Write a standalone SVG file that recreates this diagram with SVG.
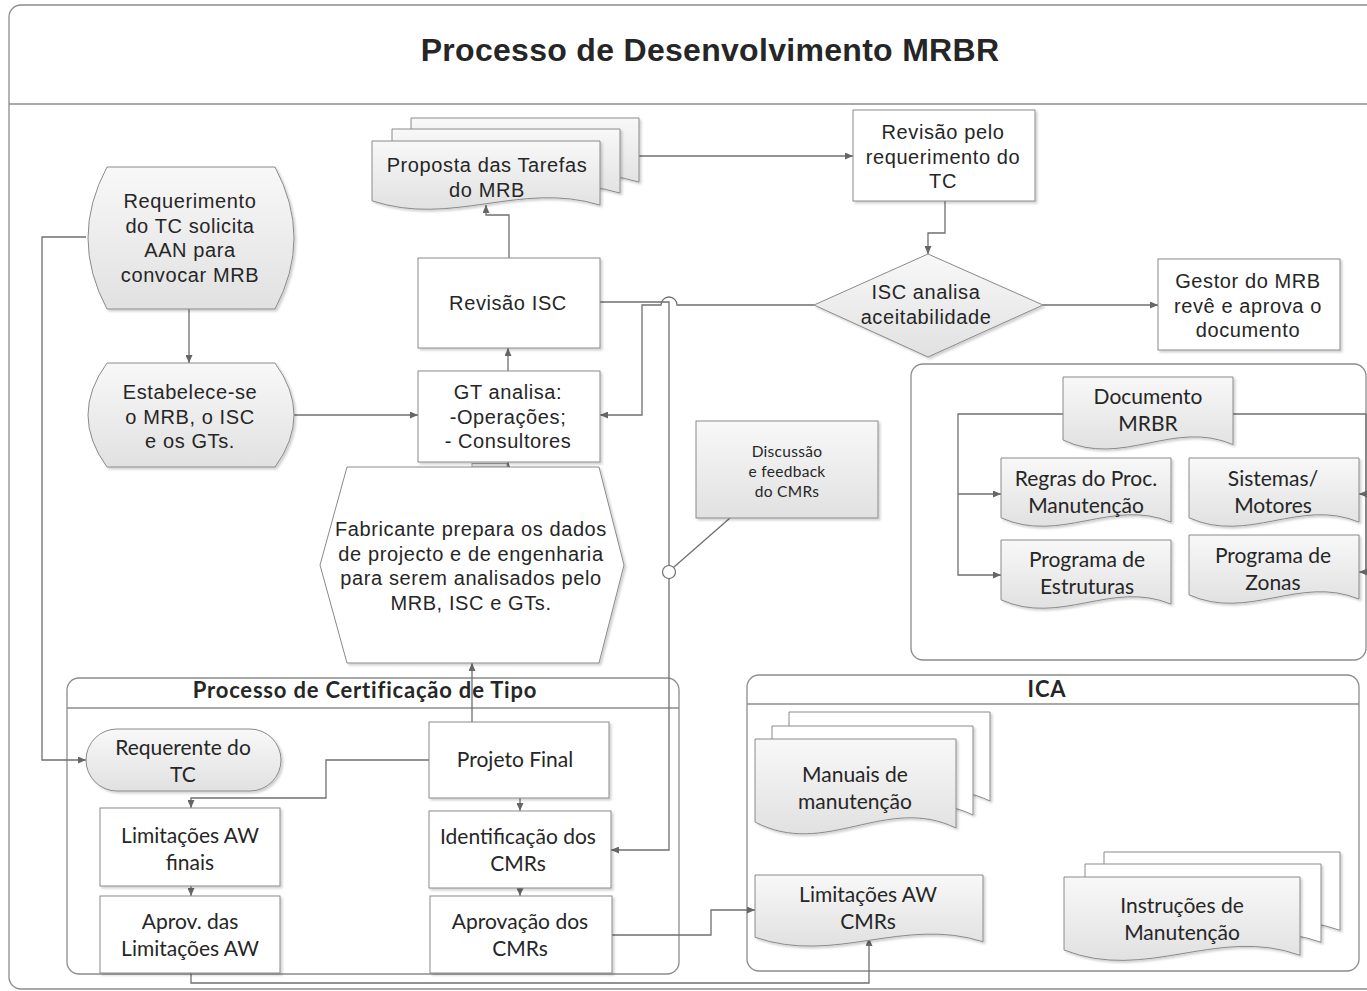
<svg xmlns="http://www.w3.org/2000/svg" xmlns:xlink="http://www.w3.org/1999/xlink" width="1367" height="991" viewBox="0 0 1367 991">
  <defs>
    <linearGradient id="gray" x1="0" y1="0" x2="0" y2="1">
      <stop offset="0" stop-color="#f8f8f8"/>
      <stop offset="1" stop-color="#e1e1e1"/>
    </linearGradient>
    <filter id="sh" x="-10%" y="-10%" width="125%" height="125%">
      <feDropShadow dx="2" dy="2" stdDeviation="1.2" flood-color="#000" flood-opacity="0.18"/>
    </filter>
    <marker id="ah" viewBox="0 0 8 7" refX="8" refY="3.5" markerWidth="8" markerHeight="7" markerUnits="userSpaceOnUse" orient="auto">
      <path d="M0,0 L8,3.5 L0,7 z" fill="#666"/>
    </marker>
    <!-- document outlines with a wavy lower edge -->
    <path id="docProp" d="M0,0h228v64.1c-79.8,-24.5 -148.2,22.3 -228,-4.3z"/>
    <path id="docMan" d="M0,0h201v89c-70.35,-34 -130.65,31 -201,-6z"/>
    <path id="docLim" d="M0,0h228v66.75c-79.8,-25.5 -148.2,23.25 -228,-4.5z"/>
    <path id="docIns" d="M0,0h236v78.3c-82.6,-29.9 -153.4,27.3 -236,-5.3z"/>
    <path id="docMRBR" d="M0,0h170v67.6c-59.5,-25.8 -110.5,23.6 -170,-4.6z"/>
    <path id="docSub" d="M0,0h170v64.1c-59.5,-24.5 -110.5,22.3 -170,-4.3z"/>
  </defs>
  <style>
    .frame { fill: #fff; stroke: #8c8c8c; stroke-width: 1.3; }
    .lane { fill: none; stroke: #8c8c8c; stroke-width: 1.3; }
    .box { fill: #fff; stroke: #8a8a8a; stroke-width: 1; filter: url(#sh); }
    .gbox { fill: url(#gray); stroke: #8a8a8a; stroke-width: 1; filter: url(#sh); }
    .conn path, .conn line { fill: none; stroke: #6f6f6f; stroke-width: 1.3; }
    .arr { marker-end: url(#ah); }
    text { fill: #262626; text-anchor: middle; }
    .a { font-family: "Liberation Sans", Arial, sans-serif; font-size: 20px; letter-spacing: 0.6px; }
    .c { font-family: Lato, "Open Sans", sans-serif; font-size: 21px; }
    .s { font-family: Lato, "Open Sans", sans-serif; font-size: 15.5px; letter-spacing: 0.3px; }
    .hd { font-family: Lato, "Open Sans", sans-serif; font-size: 22px; font-weight: bold; letter-spacing: 0.8px; }
    .title { font-family: "Liberation Sans", Arial, sans-serif; font-size: 32px; font-weight: bold; letter-spacing: 0.3px; }
  </style>

  <!-- page frame and header -->
  <rect class="frame" x="9" y="5" width="1400" height="984" rx="12"/>
  <line x1="9" y1="104" x2="1367" y2="104" stroke="#8c8c8c" stroke-width="1.3"/>
  <text class="title" x="710" y="61">Processo de Desenvolvimento MRBR</text>

  <!-- lanes -->
  <g id="lane-certificacao">
    <rect class="lane" x="67" y="678" width="612" height="296" rx="12"/>
    <line x1="67" y1="708" x2="679" y2="708" stroke="#8c8c8c" stroke-width="1.3"/>
    <text class="hd" x="365" y="698">Processo de Certificação de Tipo</text>
  </g>
  <g id="lane-ica">
    <rect class="lane" x="747" y="675" width="612" height="296" rx="12"/>
    <line x1="747" y1="704" x2="1359" y2="704" stroke="#8c8c8c" stroke-width="1.3"/>
    <text class="hd" x="1047" y="697">ICA</text>
  </g>
  <g id="lane-mrbr">
    <rect class="lane" x="911" y="364" width="455" height="296" rx="12"/>
  </g>

  <!-- connectors -->
  <g id="connectors" class="conn">
    <path class="arr" d="M189,309 V363"/>
    <path class="arr" d="M86,237 H42 V760 H86"/>
    <path class="arr" d="M294,415 H418"/>
    <path class="arr" d="M508,371 V348"/>
    <path class="arr" d="M509,258 V215 H486 V205"/>
    <path class="arr" d="M639,156 H853"/>
    <path class="arr" d="M945,201 V233 H928 V254"/>
    <path class="arr" d="M1043,305 H1158"/>
    <path class="arr" d="M600,302 H669 V850 H611"/>
    <path class="arr" d="M814,305 H677 A8,8 0 0 0 661,305 H642 V415 H600"/>
    <path class="arr" d="M508,467 V462"/>
    <path class="arr" d="M472,722 V663"/>
    <path class="arr" d="M429,760 H326 V798 H191 V808"/>
    <path class="arr" d="M191,886 V896"/>
    <path class="arr" d="M520,798 V811"/>
    <path class="arr" d="M520,888 V896"/>
    <path class="arr" d="M612,935 H711 V910 H755"/>
    <path class="arr" d="M191,973 V983 H869 V938"/>
    <path class="arr" d="M1063,414 H958 V575 H1001"/>
    <path class="arr" d="M958,494 H1001"/>
    <path d="M1233,414 H1366 V572"/>
    <path class="arr" d="M1367,494 H1359"/>
    <path class="arr" d="M1367,572 H1359"/>
    <path d="M730,518 L674,567"/>
    <circle cx="669" cy="572" r="6.5" fill="#fff" stroke="#6f6f6f" stroke-width="1.2"/>
    <rect x="472" y="463.5" width="35" height="3.5" fill="#e6e6e6" stroke="#8a8a8a" stroke-width="0.8"/>
  </g>

  <!-- nodes -->
  <g id="requerimento">
    <path class="gbox" d="M107,167 H275 Q313,238 275,309 H107 Q69,238 107,167 Z"/>
    <text class="a" x="190" y="208">Requerimento</text>
    <text class="a" x="190" y="233">do TC solicita</text>
    <text class="a" x="190" y="257">AAN para</text>
    <text class="a" x="190" y="282">convocar MRB</text>
  </g>
  <g id="estabelece">
    <path class="gbox" d="M107,363 H275 Q313,415 275,467 H107 Q69,415 107,363 Z"/>
    <text class="a" x="190" y="399">Estabelece-se</text>
    <text class="a" x="190" y="424">o MRB, o ISC</text>
    <text class="a" x="190" y="448">e os GTs.</text>
  </g>
  <g id="revisao-isc">
    <rect class="box" x="418" y="258" width="182" height="90"/>
    <text class="a" x="508" y="310">Revisão ISC</text>
  </g>
  <g id="gt-analisa">
    <rect class="box" x="418" y="371" width="182" height="91"/>
    <text class="a" x="508" y="399">GT analisa:</text>
    <text class="a" x="508" y="424">-Operações;</text>
    <text class="a" x="508" y="448">- Consultores</text>
  </g>
  <g id="proposta">
    <use href="#docProp" x="411" y="118" class="gbox"/>
    <use href="#docProp" x="392" y="129" class="gbox"/>
    <use href="#docProp" x="372" y="141" class="gbox"/>
    <text class="a" x="487" y="172">Proposta das Tarefas</text>
    <text class="a" x="487" y="197">do MRB</text>
  </g>
  <g id="revisao-requerimento">
    <rect class="box" x="853" y="110" width="182" height="91"/>
    <text class="a" x="943" y="139">Revisão pelo</text>
    <text class="a" x="943" y="164">requerimento do</text>
    <text class="a" x="943" y="188">TC</text>
  </g>
  <g id="isc-analisa">
    <path class="gbox" d="M928,254 L1043,305 L928,357 L814,305 Z"/>
    <text class="a" x="926" y="299">ISC analisa</text>
    <text class="a" x="926" y="324">aceitabilidade</text>
  </g>
  <g id="gestor">
    <rect class="box" x="1158" y="259" width="182" height="91"/>
    <text class="a" x="1248" y="288">Gestor do MRB</text>
    <text class="a" x="1248" y="313">revê e aprova o</text>
    <text class="a" x="1248" y="337">documento</text>
  </g>
  <g id="fabricante">
    <path class="box" d="M347,467 H599 L624,565 L599,663 H347 L320,565 Z"/>
    <text class="a" x="471" y="536">Fabricante prepara os dados</text>
    <text class="a" x="471" y="561">de projecto e de engenharia</text>
    <text class="a" x="471" y="585">para serem analisados pelo</text>
    <text class="a" x="471" y="610">MRB, ISC e GTs.</text>
  </g>
  <g id="discussao">
    <rect class="gbox" x="696" y="421" width="182" height="97"/>
    <text class="s" x="787" y="457">Discussão</text>
    <text class="s" x="787" y="477">e feedback</text>
    <text class="s" x="787" y="497">do CMRs</text>
  </g>

  <g id="documento-mrbr">
    <use href="#docMRBR" x="1063" y="377" class="gbox"/>
    <text class="c" x="1148" y="404">Documento</text>
    <text class="c" x="1148" y="431">MRBR</text>
  </g>
  <g id="regras">
    <use href="#docSub" x="1001" y="458" class="gbox"/>
    <text class="c" x="1086" y="486">Regras do Proc.</text>
    <text class="c" x="1086" y="513">Manutenção</text>
  </g>
  <g id="estruturas">
    <use href="#docSub" x="1001" y="540" class="gbox"/>
    <text class="c" x="1087" y="567">Programa de</text>
    <text class="c" x="1087" y="594">Estruturas</text>
  </g>
  <g id="sistemas">
    <use href="#docSub" x="1189" y="458" class="gbox"/>
    <text class="c" x="1273" y="486">Sistemas/</text>
    <text class="c" x="1273" y="513">Motores</text>
  </g>
  <g id="zonas">
    <use href="#docSub" x="1189" y="535" class="gbox"/>
    <text class="c" x="1273" y="563">Programa de</text>
    <text class="c" x="1273" y="590">Zonas</text>
  </g>

  <g id="requerente">
    <rect class="gbox" x="86" y="729" width="195" height="62" rx="31"/>
    <text class="c" x="183" y="755">Requerente do</text>
    <text class="c" x="183" y="782">TC</text>
  </g>
  <g id="projeto-final">
    <rect class="box" x="429" y="722" width="180" height="76"/>
    <text class="c" x="515" y="767">Projeto Final</text>
  </g>
  <g id="limitacoes-finais">
    <rect class="box" x="100" y="808" width="180" height="78"/>
    <text class="c" x="190" y="843">Limitações AW</text>
    <text class="c" x="190" y="870">finais</text>
  </g>
  <g id="aprov-limitacoes">
    <rect class="box" x="100" y="896" width="180" height="77"/>
    <text class="c" x="190" y="929">Aprov. das</text>
    <text class="c" x="190" y="956">Limitações AW</text>
  </g>
  <g id="identificacao">
    <rect class="box" x="429" y="811" width="182" height="77"/>
    <text class="c" x="518" y="844">Identificação dos</text>
    <text class="c" x="518" y="871">CMRs</text>
  </g>
  <g id="aprovacao">
    <rect class="box" x="430" y="896" width="182" height="77"/>
    <text class="c" x="520" y="929">Aprovação dos</text>
    <text class="c" x="520" y="956">CMRs</text>
  </g>

  <g id="manuais">
    <use href="#docMan" x="789" y="712" class="box"/>
    <use href="#docMan" x="772" y="726" class="box"/>
    <use href="#docMan" x="755" y="739" class="gbox"/>
    <text class="c" x="855" y="782">Manuais de</text>
    <text class="c" x="855" y="809">manutenção</text>
  </g>
  <g id="limitacoes-cmrs">
    <use href="#docLim" x="755" y="875" class="gbox"/>
    <text class="c" x="868" y="902">Limitações AW</text>
    <text class="c" x="868" y="929">CMRs</text>
  </g>
  <g id="instrucoes">
    <use href="#docIns" x="1104" y="852" class="box"/>
    <use href="#docIns" x="1085" y="864" class="box"/>
    <use href="#docIns" x="1064" y="877" class="gbox"/>
    <text class="c" x="1182" y="913">Instruções de</text>
    <text class="c" x="1182" y="940">Manutenção</text>
  </g>
</svg>
